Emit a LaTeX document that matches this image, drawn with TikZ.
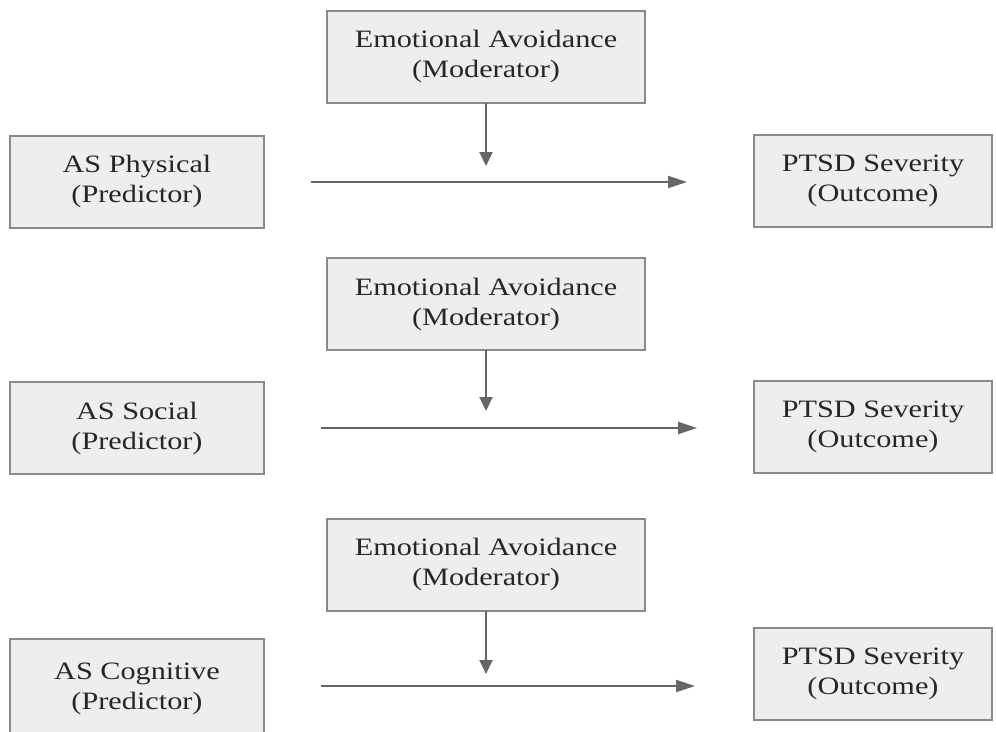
\documentclass[tikz,border=0pt]{standalone}
\usepackage{fontspec}
\setmainfont[FakeStretch=1.21]{Liberation Serif}
\usetikzlibrary{arrows.meta}
\definecolor{boxfill}{HTML}{EEEEEE}
\definecolor{boxline}{HTML}{8A8A8A}
\definecolor{arrowcol}{HTML}{666666}
\definecolor{txtcol}{HTML}{262626}
\begin{document}
\begin{tikzpicture}[x=1pt,y=-1pt,
  varbox/.style={draw=boxline, fill=boxfill, line width=2pt, inner sep=0pt, outer sep=0pt,
    align=center, text=txtcol, font=\fontsize{25}{30}\selectfont},
  modbox/.style={varbox, minimum width=318pt, minimum height=92pt},
  sidebox/.style={varbox, minimum width=254pt, minimum height=92pt},
  outbox/.style={varbox, minimum width=238pt, minimum height=92pt},
  downarrow/.style={draw=arrowcol, line width=2pt, -{Triangle[length=14pt,width=13pt]}},
  flowarrow/.style={draw=arrowcol, line width=2pt, -{Triangle[length=19pt,width=12pt]}}
]
\useasboundingbox (0,0) rectangle (996,731);
% Block 1
\node[modbox] (mod1) at (486,56.5) {Emotional Avoidance\\(Moderator)};
\node[sidebox] (pred1) at (137,181.5) {AS Physical\\(Predictor)};
\node[outbox] (out1) at (873,180.5) {PTSD Severity\\(Outcome)};
\coordinate (m1) at (486,166);
\coordinate (s1) at (311,182);
\coordinate (e1) at (687,182);
\draw[downarrow] (mod1.south) -- (m1);
\draw[flowarrow] (s1) -- (e1);
% Block 2
\node[modbox] (mod2) at (486,304) {Emotional Avoidance\\(Moderator)};
\node[sidebox] (pred2) at (137,428) {AS Social\\(Predictor)};
\node[outbox] (out2) at (873,426.5) {PTSD Severity\\(Outcome)};
\coordinate (m2) at (486,411);
\coordinate (s2) at (321,428);
\coordinate (e2) at (697,428);
\draw[downarrow] (mod2.south) -- (m2);
\draw[flowarrow] (s2) -- (e2);
% Block 3
\node[modbox] (mod3) at (486,564.5) {Emotional Avoidance\\(Moderator)};
\node[sidebox, minimum height=100pt] (pred3) at (137,689) {AS Cognitive\\(Predictor)};
\node[outbox] (out3) at (873,674) {PTSD Severity\\(Outcome)};
\coordinate (m3) at (486,674);
\coordinate (s3) at (321,686);
\coordinate (e3) at (695,686);
\draw[downarrow] (mod3.south) -- (m3);
\draw[flowarrow] (s3) -- (e3);
\end{tikzpicture}
\end{document}
